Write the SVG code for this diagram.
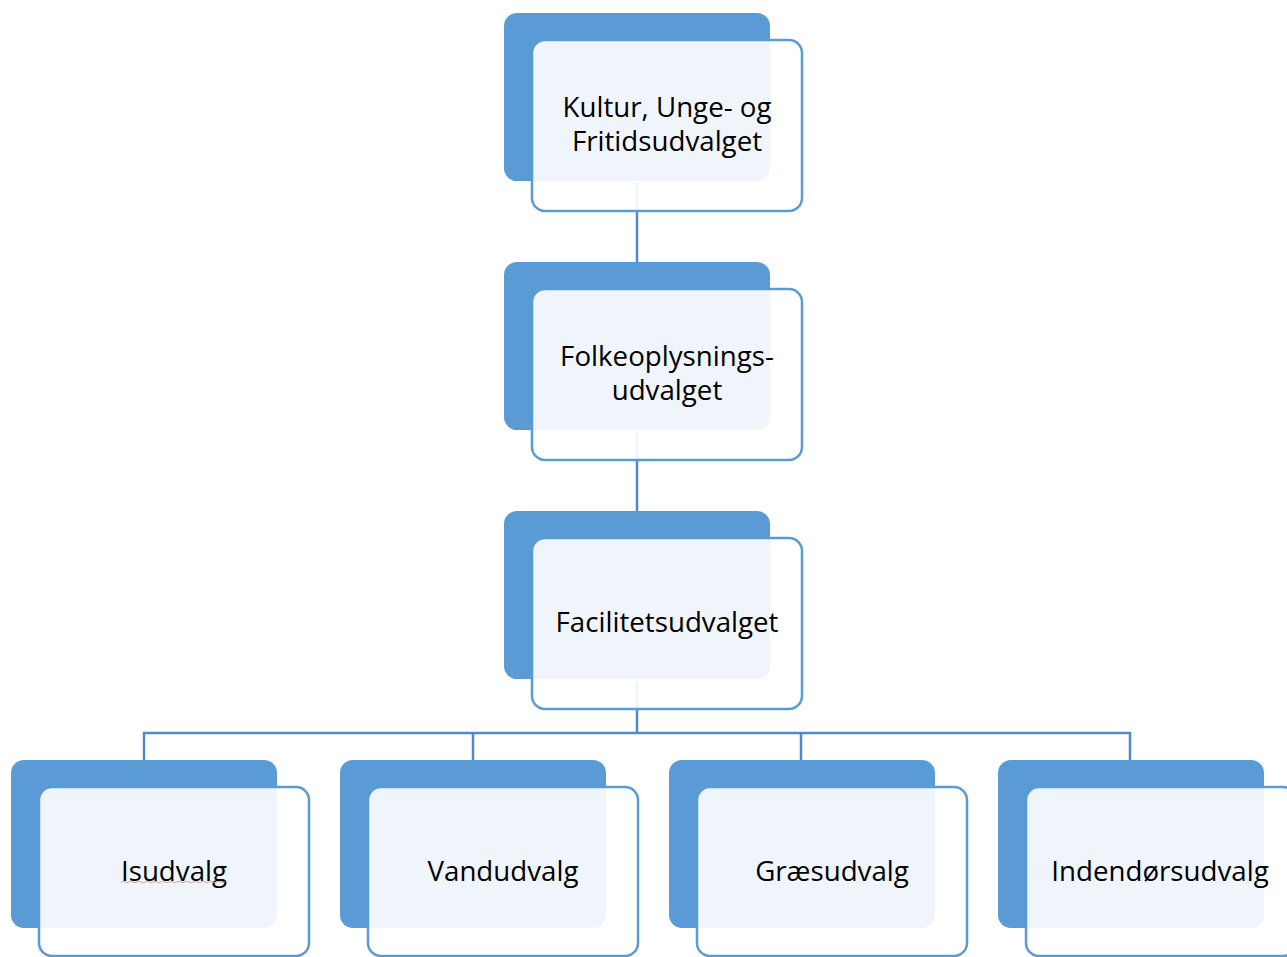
<svg xmlns="http://www.w3.org/2000/svg" width="1287" height="957" viewBox="0 0 1287 957">
<style>
.back{fill:#5B9BD5}
.front{fill:#ffffff;fill-opacity:0.9;stroke:#5B9BD5;stroke-width:2.5}
.lbl{font-family:"Open Sans","Liberation Sans",Arial,sans-serif;font-size:27.7px;fill:#000;text-anchor:middle}
.conn{fill:none;stroke:#5289C7;stroke-width:2.5}
</style>
<rect width="1287" height="957" fill="#fff"/>
<g id="backs">
<rect class="back" x="504" y="13" width="266" height="168" rx="13"/>
<rect class="back" x="504" y="262" width="266" height="168" rx="13"/>
<rect class="back" x="504" y="511" width="266" height="168" rx="13"/>
<rect class="back" x="11" y="760" width="266" height="168" rx="13"/>
<rect class="back" x="340" y="760" width="266" height="168" rx="13"/>
<rect class="back" x="669" y="760" width="266" height="168" rx="13"/>
<rect class="back" x="998" y="760" width="266" height="168" rx="13"/>
</g>
<g id="connectors">
<path class="conn" d="M637 183V262"/>
<path class="conn" d="M637 432V511"/>
<path class="conn" d="M637 681V733"/>
<path class="conn" d="M144 760V733H1130V760"/>
<path class="conn" d="M473 733V760"/>
<path class="conn" d="M801 733V760"/>
</g>
<g id="n1">
<rect class="front" x="532" y="40" width="270" height="171" rx="13"/>
<text class="lbl" x="667" y="117">Kultur, Unge- og</text>
<text class="lbl" x="667" y="151">Fritidsudvalget</text>
</g>
<g id="n2">
<rect class="front" x="532" y="289" width="270" height="171" rx="13"/>
<text class="lbl" x="667" y="366">Folkeoplysnings-</text>
<text class="lbl" x="667" y="400">udvalget</text>
</g>
<g id="n3">
<rect class="front" x="532" y="538" width="270" height="171" rx="13"/>
<text class="lbl" x="667" y="632">Facilitetsudvalget</text>
</g>
<g id="n4">
<rect class="front" x="39" y="787" width="270" height="169" rx="13"/>
<text class="lbl" x="174" y="881">Isudvalg</text>
<path d="M121 882q2 -1.5 4 0t4 0t4 0t4 0t4 0t4 0t4 0t4 0t4 0t4 0t4 0t4 0t4 0t4 0t4 0t4 0t4 0t4 0t4 0t4 0t4 0t4 0t4 0t4 0t4 0t4 0" fill="none" stroke="#E8A0A0" stroke-width="1"/>
</g>
<g id="n5">
<rect class="front" x="368" y="787" width="270" height="169" rx="13"/>
<text class="lbl" x="503" y="881">Vandudvalg</text>
</g>
<g id="n6">
<rect class="front" x="697" y="787" width="270" height="169" rx="13"/>
<text class="lbl" x="832" y="881">Græsudvalg</text>
</g>
<g id="n7">
<rect class="front" x="1026" y="787" width="270" height="169" rx="13"/>
<text class="lbl" x="1160" y="881">Indendørsudvalg</text>
</g>
</svg>
